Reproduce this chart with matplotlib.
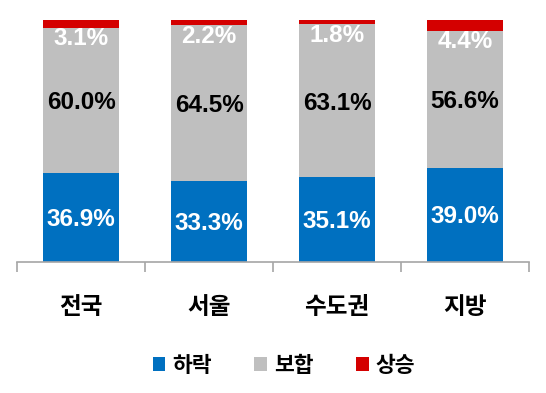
import matplotlib
matplotlib.use('Agg')
import matplotlib.pyplot as plt
from matplotlib.patches import Patch
import numpy as np

# 지역별 가격 전망 비중 (%)
regions = ['전국', '서울', '수도권', '지방']
fall = [36.9, 33.3, 35.1, 39.0]     # 하락
flat = [60.0, 64.5, 63.1, 56.6]     # 보합
rise = [3.1, 2.2, 1.8, 4.4]         # 상승
series_names = ['하락', '보합', '상승']

colors = ['#0070C0', '#BFBFBF', '#D40000']
num_font = ['Liberation Sans', 'DejaVu Sans']
kr_font = ['Noto Sans CJK KR', 'DejaVu Sans']

fig = plt.figure(figsize=(5.46, 3.93), dpi=100)
ax = fig.add_axes([17 / 546, 1 - 262 / 393, 512 / 546, 242 / 393])

x = np.arange(len(regions))
w = 0.6
fall_a = np.array(fall)
flat_a = np.array(flat)
rise_a = np.array(rise)
ax.bar(x, fall_a, w, color=colors[0], zorder=2)
ax.bar(x, flat_a, w, bottom=fall_a, color=colors[1], zorder=2)
ax.bar(x, rise_a, w, bottom=fall_a + flat_a, color=colors[2], zorder=2)

for i in range(len(regions)):
    ax.text(x[i], fall_a[i] / 2 - 0.8, f'{fall[i]:.1f}%', ha='center', va='center',
            color='white', fontsize=17.5, fontweight='bold', family=num_font)
    ax.text(x[i], fall_a[i] + flat_a[i] / 2 - 1, f'{flat[i]:.1f}%', ha='center', va='center',
            color='black', fontsize=17.5, fontweight='bold', family=num_font)
    ax.text(x[i], 100 - rise_a[i] - 4.5, f'{rise[i]:.1f}%', ha='center', va='center',
            color='white', fontsize=17.5, fontweight='bold', family=num_font)

ax.set_xlim(-0.5, len(regions) - 0.5)
ax.set_ylim(0, 100)
for s in ['top', 'right', 'left']:
    ax.spines[s].set_visible(False)
ax.spines['bottom'].set_color('#A6A6A6')
ax.spines['bottom'].set_linewidth(1.2)
ax.set_yticks([])
ax.set_xticks(np.arange(-0.5, len(regions), 1.0))
ax.set_xticklabels([])
ax.tick_params(axis='x', direction='out', length=7.5, width=1.2, color='#A6A6A6')

for i, r in enumerate(regions):
    ax.annotate(r, xy=(x[i], 0), xycoords=('data', 'axes fraction'),
                xytext=(0, -45), textcoords='offset pixels',
                ha='center', va='center', fontsize=17, fontweight='bold', family=kr_font)

handles = [Patch(facecolor=c, edgecolor='none') for c in colors]
fig.legend(handles, series_names, loc='center', bbox_to_anchor=(0.52, 0.071), ncol=3,
           frameon=False, handlelength=0.6, handleheight=0.6, handletextpad=0.3,
           columnspacing=2.0, prop={'family': kr_font, 'size': 15.5, 'weight': 'bold'})

fig.savefig('out.png', dpi=100)
